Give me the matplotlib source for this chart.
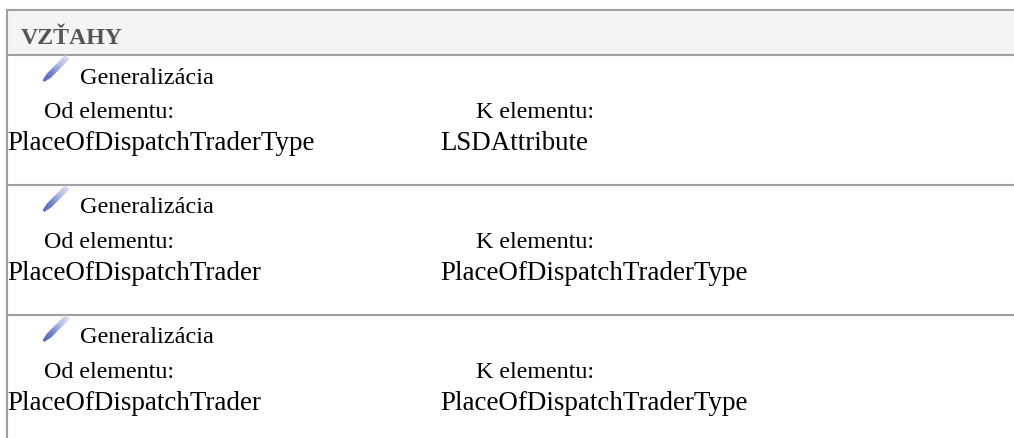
import matplotlib
matplotlib.use("Agg")
import matplotlib.pyplot as plt
from matplotlib.colors import LinearSegmentedColormap

section_title = "VZŤAHY"
relation_kind = ["Generalizácia", "Generalizácia", "Generalizácia"]
from_label = "Od elementu:"
to_label = "K elementu:"
from_elements = ["PlaceOfDispatchTraderType", "PlaceOfDispatchTrader", "PlaceOfDispatchTrader"]
to_elements = ["LSDAttribute", "PlaceOfDispatchTraderType", "PlaceOfDispatchTraderType"]
row_tops = [55.5, 185.5, 315.5]

W, H = 1014, 439
plt.rcParams['font.family'] = ['Liberation Serif', 'DejaVu Serif']
fig = plt.figure(figsize=(W / 100, H / 100), dpi=100, facecolor='white')
ax = fig.add_axes([0, 0, 1, 1])
ax.set_xlim(0, W)
ax.set_ylim(H, 0)
ax.axis('off')

px = 0.72
border = '#a0a0a0'
ax.fill_between([7, W], 11, 55, color='#f4f4f4', lw=0, zorder=0)
ax.plot([6, W], [11, 11], color=border, lw=1.5, solid_capstyle='butt')
for y in row_tops:
    ax.plot([7, W], [y, y], color=border, lw=1.5, solid_capstyle='butt')
ax.plot([7, 7], [10, H], color=border, lw=1.5, solid_capstyle='butt')

ax.text(21, 44, section_title, fontsize=23.9 * px, fontweight='bold', color='#555555', va='baseline')

cmap = LinearSegmentedColormap.from_list('pen', ['#3f55b5', '#5f78cc', '#aab6e4', '#d8dcf0'])


def pencil(y0):
    n = 24
    for i in range(n):
        t0, t1 = i / n, (i + 1) / n
        ax.plot([43.5 + 24 * t0, 43.5 + 24 * t1], [y0 - 24 * t0, y0 - 24 * t1],
                color=cmap(t0), lw=4.2 * (0.45 + 0.55 * min(1, t0 * 5)),
                solid_capstyle='butt', zorder=2)


for top, kind, src, dst in zip(row_tops, relation_kind, from_elements, to_elements):
    pencil(top + 26.5)
    ax.text(80, top + 28, kind, fontsize=24.3 * px, color='black', va='baseline')
    ax.text(44, top + 63, from_label, fontsize=24 * px, color='black', va='baseline')
    ax.text(476, top + 63, to_label, fontsize=24 * px, color='black', va='baseline')
    ax.text(7, top + 95, src, fontsize=27 * px, color='black', va='baseline')
    ax.text(440, top + 95, dst, fontsize=27 * px, color='black', va='baseline')

fig.savefig('out.png', dpi=100, facecolor='white')
